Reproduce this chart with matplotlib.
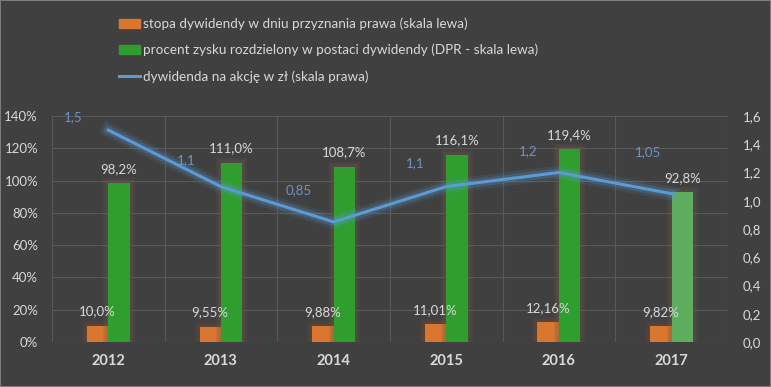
import numpy as np
import matplotlib
matplotlib.use("Agg")
import matplotlib.pyplot as plt
import matplotlib.patheffects as pe
from matplotlib.patches import Patch
from matplotlib.lines import Line2D

# -----------------------------
# data
# -----------------------------
years = ['2012', '2013', '2014', '2015', '2016', '2017']
stopa = [10.0, 9.55, 9.88, 11.01, 12.16, 9.82]          # % (skala lewa)
stopa_lbl = ['10,0%', '9,55%', '9,88%', '11,01%', '12,16%', '9,82%']
dpr = [98.2, 111.0, 108.7, 116.1, 119.4, 92.8]           # % (skala lewa)
dpr_lbl = ['98,2%', '111,0%', '108,7%', '116,1%', '119,4%', '92,8%']
dywidenda = [1.5, 1.1, 0.85, 1.1, 1.2, 1.05]            # zł (skala prawa)
dyw_lbl = ['1,5', '1,1', '0,85', '1,1', '1,2', '1,05']

legend_labels = [
    'stopa dywidendy w dniu przyznania prawa (skala lewa)',
    'procent zysku rozdzielony w postaci dywidendy (DPR - skala lewa)',
    'dywidenda na akcję w zł (skala prawa)',
]

# label offsets (points) for the line labels, Excel puts them above-left
dyw_off = [(-25, 9), (-25, 19), (-25, 23), (-22, 17), (-22, 15), (-17, 30)]

# -----------------------------
# style
# -----------------------------
plt.rcParams['font.family'] = ['Lato', 'DejaVu Sans']
bg = '#404040'
grid_c = '#585858'
txt = '#d9d9d9'
orange = '#d9762f'
green = '#2f9e2f'
green_light = '#5fae5f'
blue = '#5b9bd5'
blue_lbl = '#6e93c6'

fig = plt.figure(figsize=(7.71, 3.87), dpi=100, facecolor=bg)
ax = fig.add_axes([0.0674, 0.1163, 0.8766, 0.584])
ax.set_facecolor(bg)

x = np.arange(len(years))
w = 0.19

glow_o = [pe.Stroke(linewidth=7, foreground='#7a4a2a', alpha=0.18),
          pe.Stroke(linewidth=4, foreground='#7a4a2a', alpha=0.25), pe.Normal()]
glow_g = [pe.Stroke(linewidth=7, foreground='#6e5a4a', alpha=0.18),
          pe.Stroke(linewidth=4, foreground='#6e5a4a', alpha=0.25), pe.Normal()]

b1 = ax.bar(x - w / 2, stopa, w, color=orange, linewidth=0, zorder=3)
green_cols = [green] * (len(years) - 1) + [green_light]
b2 = ax.bar(x + w / 2, dpr, w, color=green_cols, linewidth=0, zorder=3)
for r in b1:
    r.set_path_effects(glow_o)
for r in b2:
    r.set_path_effects(glow_g)

for xi, v, s in zip(x, stopa, stopa_lbl):
    ax.annotate(s, (xi - w / 2, v), xytext=(0, 6), textcoords='offset points',
                ha='center', va='bottom', color=txt, fontsize=9.5, zorder=5)
for xi, v, s in zip(x, dpr, dpr_lbl):
    ax.annotate(s, (xi + w / 2, v), xytext=(0, 6), textcoords='offset points',
                ha='center', va='bottom', color=txt, fontsize=9.5, zorder=5)

ax.set_xlim(-0.5, len(years) - 0.5)
ax.set_ylim(0, 140)
ax.set_yticks(np.arange(0, 141, 20))
ax.set_yticklabels([f'{v}%' for v in range(0, 141, 20)])
ax.set_xticks(x)
ax.set_xticklabels(years, fontweight='bold', fontsize=10.5)
ax.set_xticks(np.arange(-0.5, len(years), 1), minor=True)
ax.grid(True, which='minor', axis='x', color=grid_c, linewidth=0.8)
ax.grid(True, which='major', axis='y', color=grid_c, linewidth=0.8)
ax.set_axisbelow(True)
ax.tick_params(axis='y', length=0, pad=10, colors=txt, labelsize=9.5)
ax.tick_params(axis='x', which='both', length=0, pad=9, colors=txt)
for sp in ax.spines.values():
    sp.set_visible(False)

# right axis - dywidenda na akcje
ax2 = ax.twinx()
ax2.set_ylim(0, 1.6)
ax2.set_yticks(np.arange(0, 1.61, 0.2))
ax2.set_yticklabels([f'{v:.1f}'.replace('.', ',') for v in np.arange(0, 1.61, 0.2)])
ax2.tick_params(axis='y', length=0, pad=11, colors=txt, labelsize=9.5)
for sp in ax2.spines.values():
    sp.set_visible(False)

ax2.plot(x, dywidenda, color=blue, linewidth=2.2, zorder=4,
         path_effects=[pe.Stroke(linewidth=10, foreground=blue, alpha=0.12),
                       pe.Stroke(linewidth=6, foreground=blue, alpha=0.22),
                       pe.Normal()])
for xi, v, s, off in zip(x, dywidenda, dyw_lbl, dyw_off):
    ax2.annotate(s, (xi, v), xytext=off, textcoords='offset points',
                 ha='center', va='center', color=blue_lbl, fontsize=9.5)

# legend
handles = [Patch(color=orange), Patch(color=green),
           Line2D([], [], color=blue, linewidth=2.2)]
leg = fig.legend(handles, legend_labels, loc='upper left',
                 bbox_to_anchor=(0.138, 0.985), frameon=False,
                 fontsize=9.7, labelcolor=txt, handlelength=1.6,
                 handleheight=0.7, handletextpad=0.2, labelspacing=1.0)

# thin border around the picture
fig.patches.append(plt.Rectangle((0, 0), 1, 1, transform=fig.transFigure,
                                 fill=False, edgecolor='#8a8a8a', linewidth=1.2))

fig.savefig('out.png', dpi=100, facecolor=bg)
